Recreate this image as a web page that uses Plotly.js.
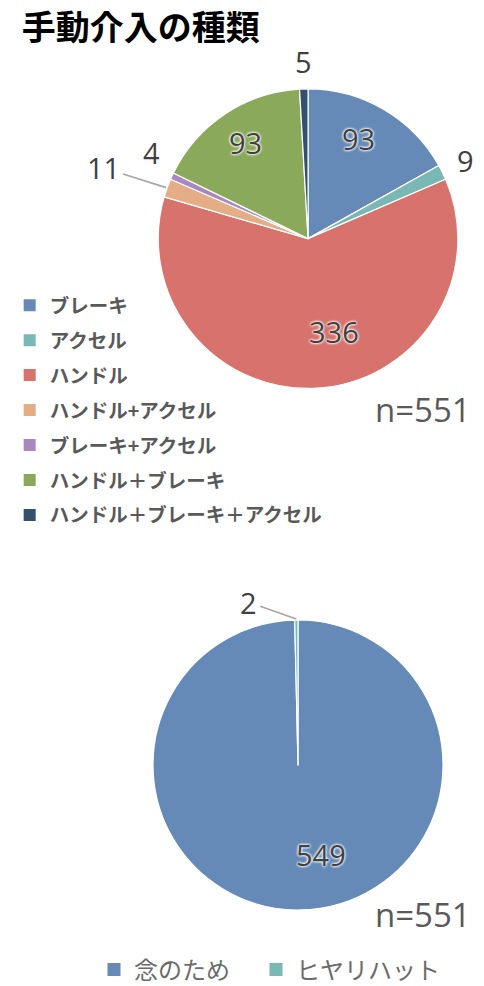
<!DOCTYPE html>
<html>
<head>
<meta charset="utf-8">
<script src="https://cdn.plot.ly/plotly-3.0.1.min.js"></script>
<style>html,body{margin:0;padding:0;background:#fff;}#chart{width:484px;height:986px;}</style>
</head>
<body>
<div id="chart"></div>
<script>
// Top pie: type of manual intervention
const typeLabels = ['ブレーキ', 'アクセル', 'ハンドル', 'ハンドル+アクセル', 'ブレーキ+アクセル', 'ハンドル＋ブレーキ', 'ハンドル＋ブレーキ＋アクセル'];
const typeValues = [93, 9, 336, 11, 4, 93, 5];
const typeColors = ['#658AB7', '#7AB8B5', '#D7726C', '#E4AD85', '#A888BE', '#8AA95A', '#34506F'];
const typeTotalText = 'n=551';

// Bottom pie: reason
const reasonLabels = ['念のため', 'ヒヤリハット'];
const reasonValues = [549, 2];
const reasonColors = ['#658AB7', '#7AB8B5'];
const reasonTotalText = 'n=551';

const titleText = '手動介入の種類';

// ---- styling / placement (not data) ----
const W = 484, H = 986;
const topDomain = {x: [0.327, 0.946], y: [0.6055, 0.9105]};
const botDomain = {x: [0.3161, 0.9153], y: [0.0771, 0.3712]};
const cjk = '"Noto Sans CJK JP", "Noto Sans", sans-serif';
const numFont = '"Open Sans", "Noto Sans", sans-serif';
const gray = '#404040';
const glow = '0px 0px 3px #fff, 0px 0px 3px #fff, 0px 0px 2px #fff';
// label placement per slice index
const topPlace = [{inside: 0.73, shift: [-5, -6]}, {out: 26}, {inside: 0.64, shift: [20, -3]},
                  {leader: [-63, -20]}, {offset: [-20, -24]}, {inside: 0.75, shift: [0, -3]}, {out: 27}];
const botPlace = [{inside: 0.62, shift: [22, 0]}, {leader: [-48, -17]}];
const botLegendX = [94, 256];

function geom(d) {
  const cx = (d.x[0] + d.x[1]) / 2 * W;
  const cy = (1 - (d.y[0] + d.y[1]) / 2) * H;
  const r = Math.min((d.x[1] - d.x[0]) * W, (d.y[1] - d.y[0]) * H) / 2;
  return {cx, cy, r};
}

function labelAnnotations(values, domain, place) {
  const g = geom(domain);
  const total = values.reduce((a, b) => a + b, 0);
  let cum = 0;
  const anns = [];
  values.forEach((v, i) => {
    const mid = (cum + v / 2) / total * 2 * Math.PI;
    cum += v;
    const sx = Math.sin(mid), sy = -Math.cos(mid);
    const p = place[i];
    const font = {family: numFont, size: 29, color: gray};
    const ex = g.cx + sx * g.r, ey = g.cy + sy * g.r;
    let px, py;
    if (p.inside !== undefined) {
      px = g.cx + sx * g.r * p.inside; py = g.cy + sy * g.r * p.inside;
      if (p.shift) { px += p.shift[0]; py += p.shift[1]; }
      font.shadow = glow;
    } else if (p.out !== undefined) {
      px = g.cx + sx * (g.r + p.out); py = g.cy + sy * (g.r + p.out);
    } else if (p.offset !== undefined) {
      px = ex + p.offset[0]; py = ey + p.offset[1];
    } else {
      anns.push({text: String(v), x: (ex + sx) / W, y: 1 - (ey + sy) / H, xref: 'paper', yref: 'paper',
                 showarrow: true, arrowhead: 0, arrowwidth: 1.6, arrowcolor: '#a6a6a6',
                 ax: p.leader[0], ay: p.leader[1], standoff: 0, startstandoff: 2, font});
      return;
    }
    anns.push({text: String(v), x: px / W, y: 1 - py / H, xref: 'paper', yref: 'paper',
               showarrow: false, xanchor: 'center', yanchor: 'middle', font});
  });
  return anns;
}

const traces = [];
traces.push({
  type: 'pie',
  labels: typeLabels,
  values: typeValues,
  marker: {colors: typeColors, line: {color: '#ffffff', width: 1.2}},
  sort: false, direction: 'clockwise', rotation: 0,
  textinfo: 'none',
  domain: topDomain,
  showlegend: false,
  hoverinfo: 'label+value'
});
traces.push({
  type: 'pie',
  labels: reasonLabels,
  values: reasonValues,
  marker: {colors: reasonColors, line: {color: '#ffffff', width: 1.2}},
  sort: false, direction: 'clockwise', rotation: 0,
  textinfo: 'none',
  domain: botDomain,
  showlegend: false,
  hoverinfo: 'label+value'
});
// legend entries for top pie (one group each so rows can be spaced)
typeLabels.forEach((lab, i) => {
  traces.push({
    type: 'scatter', mode: 'markers', x: [null], y: [null],
    name: lab, legendgroup: 'g' + i,
    marker: {symbol: 'square', size: 12, color: typeColors[i], line: {width: 0}},
    hoverinfo: 'skip'
  });
});
// legend entries for bottom pie (each in its own legend box)
reasonLabels.forEach((lab, i) => {
  traces.push({
    type: 'scatter', mode: 'markers', x: [null], y: [null],
    name: lab, legend: 'legend' + (i + 2),
    marker: {symbol: 'square', size: 13, color: reasonColors[i], line: {width: 0}},
    hoverinfo: 'skip'
  });
});

const annotations = []
  .concat(labelAnnotations(typeValues, topDomain, topPlace))
  .concat(labelAnnotations(reasonValues, botDomain, botPlace))
  .concat([
    {text: typeTotalText, xref: 'paper', yref: 'paper', x: 423 / W, y: 1 - 409 / H, showarrow: false,
     font: {family: numFont, size: 33, color: '#595959'}, xanchor: 'center', yanchor: 'middle'},
    {text: reasonTotalText, xref: 'paper', yref: 'paper', x: 423 / W, y: 1 - 914 / H, showarrow: false,
     font: {family: numFont, size: 33, color: '#595959'}, xanchor: 'center', yanchor: 'middle'}
  ]);

const botLegendStyle = (x) => ({x: x / W, xanchor: 'left', y: 1 - 970 / H, yanchor: 'middle',
  font: {family: cjk, size: 24, color: '#6b6b6b'}, bgcolor: 'rgba(0,0,0,0)'});

const layout = {
  width: W, height: H,
  margin: {l: 0, r: 0, t: 0, b: 0, autoexpand: false},
  paper_bgcolor: '#fff', plot_bgcolor: '#fff',
  title: {text: '<b>' + titleText + '</b>', x: 0.045, xanchor: 'left', y: 1 - 28 / H, yanchor: 'middle',
          font: {family: cjk, size: 34, color: '#000'}},
  xaxis: {visible: false, domain: [0, 0.01]},
  yaxis: {visible: false, domain: [0, 0.01]},
  legend: {x: 0.02, xanchor: 'left', y: 1 - 286 / H, yanchor: 'top',
           font: {family: cjk, size: 19.5, color: '#595959', weight: 'bold'},
           tracegroupgap: 6.6, bgcolor: 'rgba(0,0,0,0)', traceorder: 'grouped'},
  legend2: botLegendStyle(botLegendX[0]),
  legend3: botLegendStyle(botLegendX[1]),
  annotations,
  showlegend: true
};

Plotly.newPlot('chart', traces, layout, {displayModeBar: false, staticPlot: true});
</script>
</body>
</html>
